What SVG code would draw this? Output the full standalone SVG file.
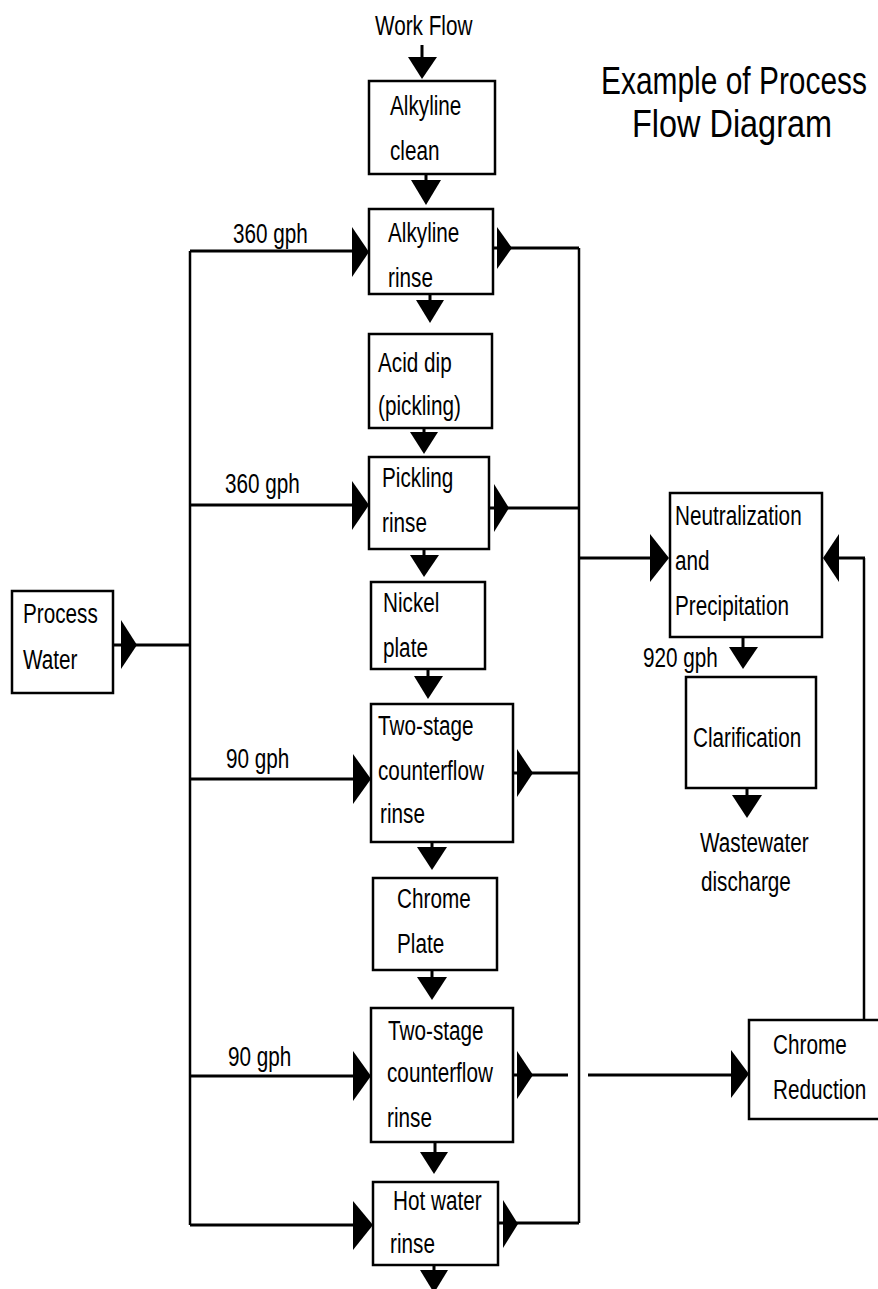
<svg xmlns="http://www.w3.org/2000/svg" width="878" height="1289" viewBox="0 0 878 1289">
<style>
.box{fill:#fff;stroke:#000;stroke-width:2.5}
.ln{fill:none;stroke:#000;stroke-width:3}
.vl{fill:none;stroke:#000;stroke-width:2.5}
.ah{fill:#000;stroke:none}
text{font-family:"Liberation Sans",Arial,sans-serif;font-size:28px;fill:#000}
.title{font-size:39px}
</style>
<rect width="878" height="1289" fill="#fff"/>

<g id="connectors">
  <!-- left supply header -->
  <path class="vl" d="M190 251V1225"/>
  <path class="ln" d="M113 645H190"/>
  <polygon class="ah" points="121,620 121,669 137,645"/>
  <path class="ln" d="M190 251H360 M190 505H360 M190 779H362 M190 1076H362 M190 1225H362"/>
  <polygon class="ah" points="352,227 352,277 369,252"/>
  <polygon class="ah" points="352,481 352,530 369,505"/>
  <polygon class="ah" points="353,754 353,804 371,779"/>
  <polygon class="ah" points="353,1051 353,1101 371,1076"/>
  <polygon class="ah" points="353,1201 353,1250 373,1225"/>

  <!-- right collector -->
  <path class="vl" d="M579 248V1223"/>
  <path class="ln" d="M493 248H579 M489 508H579 M513 773H579 M498 1223H579"/>
  <polygon class="ah" points="497,227 497,269 512,248"/>
  <polygon class="ah" points="494,484 494,532 509,508"/>
  <polygon class="ah" points="517,749 517,797 533,773"/>
  <polygon class="ah" points="503,1200 503,1248 518,1224"/>
  <!-- chrome rinse to chrome reduction, jumping the collector -->
  <path class="ln" d="M513 1075H568 M588 1075H740"/>
  <polygon class="ah" points="517,1051 517,1099 533,1075"/>
  <polygon class="ah" points="731,1050 731,1098 749,1074"/>
  <!-- to neutralization -->
  <path class="ln" d="M579 558H660"/>
  <polygon class="ah" points="650,534 650,582 669,558"/>
  <path class="vl" d="M864 1020V558"/>
  <path class="ln" d="M865 558H830"/>
  <polygon class="ah" points="839,534 839,582 823,558"/>

  <!-- work flow down arrows -->
  <path class="ln" d="M422 45V60 M426 174V182 M430 294V302 M424 428V434 M424 549V557 M428 669V678 M432 842V849 M432 970V979 M435 1142V1154 M434 1265V1272 M743 637V649 M747 788V797"/>
  <polygon class="ah" points="408,57 437,57 422,79"/>
  <polygon class="ah" points="411,180 441,180 426,205"/>
  <polygon class="ah" points="416,300 444,300 430,323"/>
  <polygon class="ah" points="410,432 438,432 424,454"/>
  <polygon class="ah" points="410,555 439,555 424,577"/>
  <polygon class="ah" points="414,676 443,676 428,699"/>
  <polygon class="ah" points="417,847 447,847 432,870"/>
  <polygon class="ah" points="417,977 447,977 432,1000"/>
  <polygon class="ah" points="420,1152 448,1152 434,1174"/>
  <polygon class="ah" points="420,1270 448,1270 434,1293"/>
  <polygon class="ah" points="729,647 758,647 743,669"/>
  <polygon class="ah" points="732,795 762,795 747,818"/>
</g>

<g id="title">
  <text class="title" x="601" y="94" textLength="266" lengthAdjust="spacingAndGlyphs">Example of Process</text>
  <text class="title" x="632" y="137" textLength="200" lengthAdjust="spacingAndGlyphs">Flow Diagram</text>
</g>

<g id="work-flow">
  <text transform="translate(375,35) scale(0.74,1)">Work Flow</text>
</g>

<g id="alkyline-clean">
  <rect class="box" x="369" y="81" width="126" height="93"/>
  <text transform="translate(390,115) scale(0.74,1)">Alkyline</text>
  <text transform="translate(390,160) scale(0.74,1)">clean</text>
</g>

<g id="alkyline-rinse">
  <rect class="box" x="369" y="209" width="124" height="85"/>
  <text transform="translate(388,242) scale(0.74,1)">Alkyline</text>
  <text transform="translate(388,287) scale(0.74,1)">rinse</text>
</g>

<g id="acid-dip">
  <rect class="box" x="369" y="334" width="123" height="94"/>
  <text transform="translate(378,372) scale(0.74,1)">Acid dip</text>
  <text transform="translate(378,415) scale(0.74,1)">(pickling)</text>
</g>

<g id="pickling-rinse">
  <rect class="box" x="369" y="457" width="120" height="92"/>
  <text transform="translate(382,487) scale(0.74,1)">Pickling</text>
  <text transform="translate(382,532) scale(0.74,1)">rinse</text>
</g>

<g id="nickel-plate">
  <rect class="box" x="371" y="582" width="114" height="87"/>
  <text transform="translate(383,612) scale(0.74,1)">Nickel</text>
  <text transform="translate(383,657) scale(0.74,1)">plate</text>
</g>

<g id="two-stage-1">
  <rect class="box" x="371" y="704" width="142" height="138"/>
  <text transform="translate(378,735) scale(0.74,1)">Two-stage</text>
  <text transform="translate(378,780) scale(0.74,1)">counterflow</text>
  <text transform="translate(380,823) scale(0.74,1)">rinse</text>
</g>

<g id="chrome-plate">
  <rect class="box" x="373" y="878" width="124" height="92"/>
  <text transform="translate(397,908) scale(0.74,1)">Chrome</text>
  <text transform="translate(397,953) scale(0.74,1)">Plate</text>
</g>

<g id="two-stage-2">
  <rect class="box" x="371" y="1008" width="142" height="134"/>
  <text transform="translate(388,1040) scale(0.74,1)">Two-stage</text>
  <text transform="translate(387,1082) scale(0.74,1)">counterflow</text>
  <text transform="translate(387,1127) scale(0.74,1)">rinse</text>
</g>

<g id="hot-water-rinse">
  <rect class="box" x="373" y="1182" width="125" height="83"/>
  <text transform="translate(393,1210) scale(0.74,1)">Hot water</text>
  <text transform="translate(390,1253) scale(0.74,1)">rinse</text>
</g>

<g id="process-water">
  <rect class="box" x="12" y="591" width="101" height="102"/>
  <text transform="translate(23,623) scale(0.74,1)">Process</text>
  <text transform="translate(23,669) scale(0.74,1)">Water</text>
</g>

<g id="flow-labels">
  <text transform="translate(233,243) scale(0.74,1)">360 gph</text>
  <text transform="translate(225,493) scale(0.74,1)">360 gph</text>
  <text transform="translate(226,768) scale(0.74,1)">90 gph</text>
  <text transform="translate(228,1066) scale(0.74,1)">90 gph</text>
  <text transform="translate(643,667) scale(0.74,1)">920 gph</text>
</g>

<g id="neutralization">
  <rect class="box" x="670" y="493" width="152" height="144"/>
  <text transform="translate(675,525) scale(0.74,1)">Neutralization</text>
  <text transform="translate(675,570) scale(0.74,1)">and</text>
  <text transform="translate(675,615) scale(0.74,1)">Precipitation</text>
</g>

<g id="clarification">
  <rect class="box" x="686" y="677" width="130" height="111"/>
  <text transform="translate(693,747) scale(0.74,1)">Clarification</text>
</g>

<g id="wastewater-discharge">
  <text transform="translate(700,852) scale(0.74,1)">Wastewater</text>
  <text transform="translate(701,891) scale(0.74,1)">discharge</text>
</g>

<g id="chrome-reduction">
  <rect class="box" x="749" y="1020" width="140" height="99"/>
  <text transform="translate(773,1054) scale(0.74,1)">Chrome</text>
  <text transform="translate(773,1099) scale(0.74,1)">Reduction</text>
</g>
</svg>
